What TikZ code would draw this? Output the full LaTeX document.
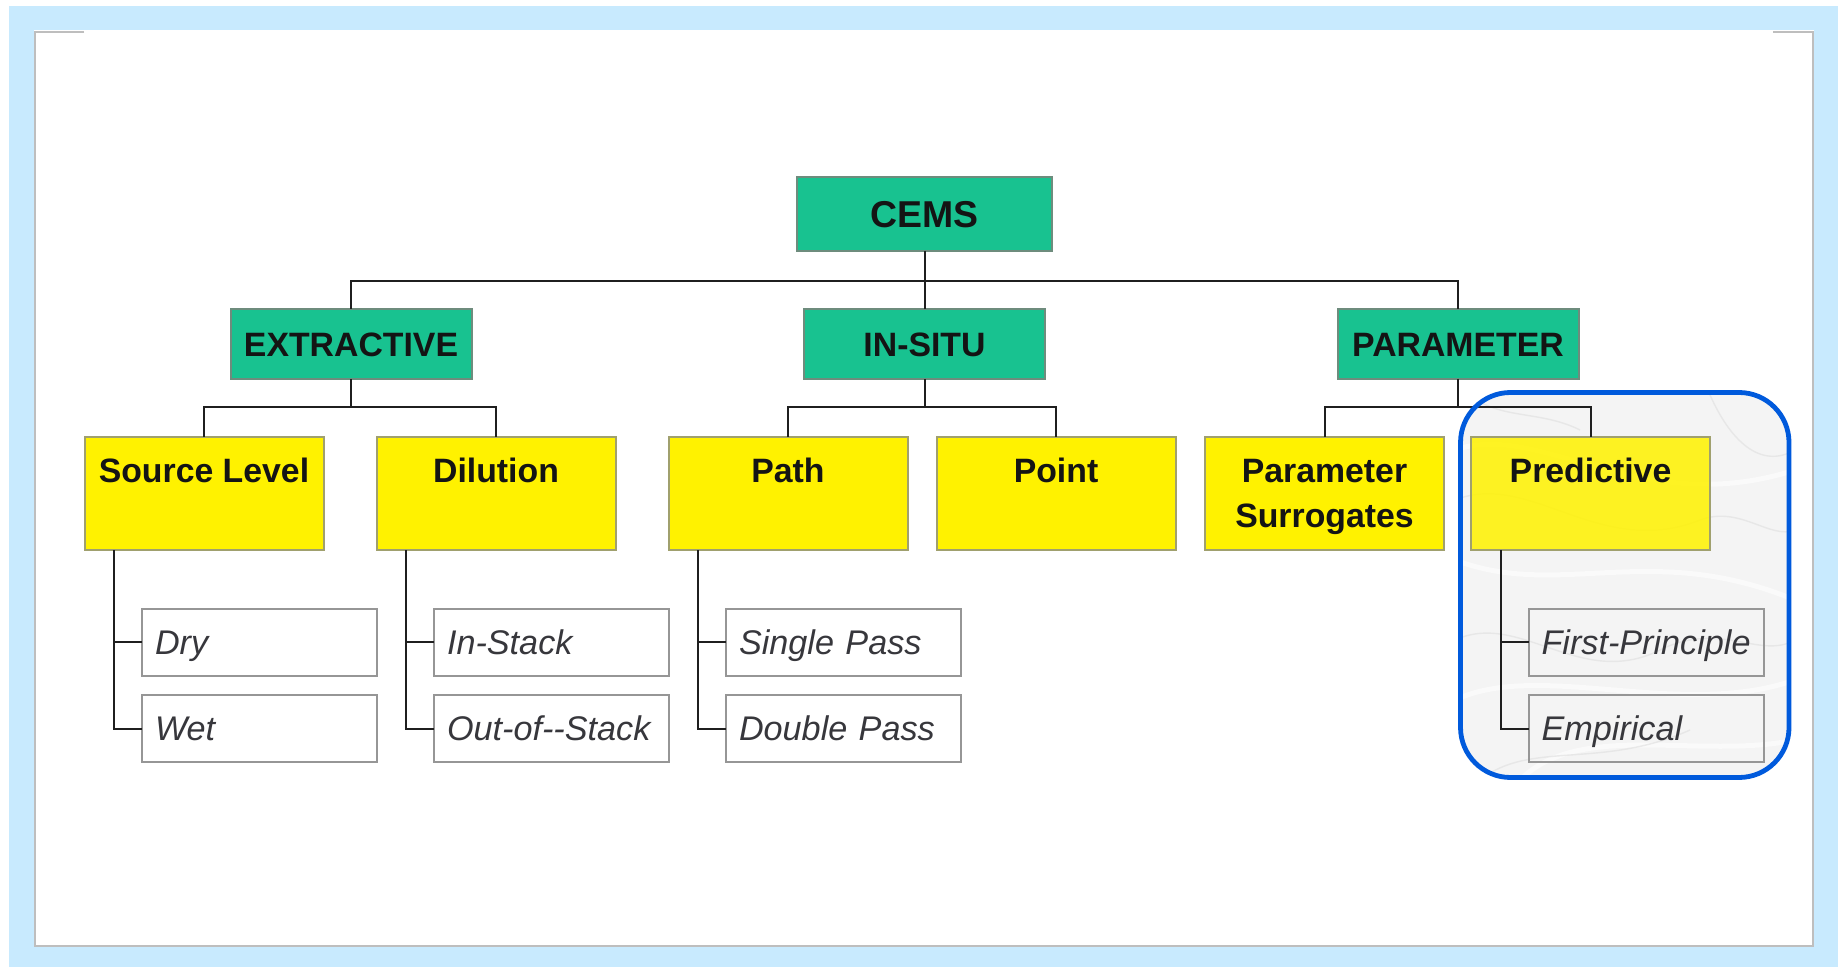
\documentclass[tikz,border=0pt]{standalone}
\usepackage{fontspec}
\setmainfont{Liberation Sans}
\definecolor{bgblue}{RGB}{200,234,254}
\definecolor{panelgray}{RGB}{190,190,190}
\definecolor{tealfill}{RGB}{24,194,144}
\definecolor{tealline}{RGB}{110,140,125}
\definecolor{yline}{RGB}{160,160,110}
\definecolor{leafline}{RGB}{150,150,150}
\definecolor{leaftext}{RGB}{55,55,60}
\definecolor{ringblue}{RGB}{0,90,220}
\definecolor{marble}{RGB}{244,244,244}
\definecolor{veingray}{RGB}{226,226,226}
\tikzset{
  box/.style={draw, line width=1pt, inner sep=0pt, outer sep=0pt},
  toplevel/.style={box, fill=tealfill, draw=tealline, minimum width=120.5pt, minimum height=35pt,
    font=\bfseries\fontsize{16.9}{20}\selectfont, text=black!92, text height=12.1pt, text depth=0pt},
  rootbox/.style={toplevel, minimum width=127.5pt, minimum height=37pt,
    font=\bfseries\fontsize{18.7}{22}\selectfont, text height=13.4pt},
  ybox/.style={box, fill=yellow, draw=yline, minimum width=119.5pt, minimum height=56.5pt},
  ylab/.style={font=\bfseries\fontsize{16.9}{22.5}\selectfont, text=black!92, anchor=base, inner sep=0pt},
  leaf/.style={box, draw=leafline, fill=white, text width=104.5pt, align=left, inner xsep=6.5pt,
    minimum height=33.5pt, font=\itshape\fontsize{17.1}{20}\selectfont, text=leaftext,
    text height=12.2pt, text depth=0pt},
  clearleaf/.style={leaf, fill=none},
  link/.style={line width=1pt, draw=black!88},
  vein/.style={white, line width=2.5pt, opacity=0.55},
  darkvein/.style={veingray, line width=0.7pt, opacity=0.7},
}
\begin{document}
\begin{tikzpicture}[x=0.5pt,y=-0.5pt]
  \useasboundingbox (0,0) rectangle (1845,967);
  % page frame
  \fill[white] (0,0) rectangle (1845,967);
  \fill[bgblue] (9,6) rectangle (1838,967);
  \fill[white] (34,30) rectangle (1814,946);
  \draw[panelgray, line width=1.4pt] (84,32) -- (35,32) -- (35,946) -- (1813,946) -- (1813,32) -- (1773,32);

  % marbled highlight area
  \begin{scope}
    \clip[rounded corners=25pt] (1460.5,392.5) rectangle (1789,777.5);
    \fill[marble] (1440,380) rectangle (1800,790);
    \draw[vein] (1455,450) .. controls (1540,420) and (1640,520) .. (1795,470);
    \draw[vein] (1455,560) .. controls (1560,600) and (1650,540) .. (1795,600);
    \draw[vein] (1455,700) .. controls (1540,660) and (1680,720) .. (1795,680);
    \draw[vein] (1520,780) .. controls (1580,720) and (1700,760) .. (1795,740);
    \draw[darkvein] (1455,500) .. controls (1530,470) and (1600,560) .. (1700,520) .. controls (1740,505) and (1770,540) .. (1795,530);
    \draw[darkvein] (1455,640) .. controls (1520,610) and (1580,690) .. (1660,650) .. controls (1720,620) and (1760,660) .. (1795,640);
    \draw[darkvein] (1480,780) .. controls (1530,740) and (1600,770) .. (1690,730);
    \draw[darkvein] (1710,395) .. controls (1730,440) and (1760,470) .. (1795,450);
    \draw[darkvein] (1470,395) .. controls (1500,420) and (1540,410) .. (1580,430);
  \end{scope}

  % root and first level
  \node[rootbox] (cems) at (924.5,214) {CEMS};
  \node[toplevel] (ext) at (351,344) {EXTRACTIVE};
  \node[toplevel] (ins) at (924.5,344) {IN-SITU};
  \node[toplevel] (par) at (1458,344) {PARAMETER};

  % second level
  \node[ybox] (src) at (204,493.5) {};
  \node[ybox] (dil) at (496,493.5) {};
  \node[ybox] (pth) at (788,493.5) {};
  \node[ybox] (pnt) at (1056,493.5) {};
  \node[ybox] (psur) at (1324.5,493.5) {};
  \node[ybox, fill opacity=0.86] (pred) at (1590.5,493.5) {};
  \node[ylab] (srct) at (204,482.5) {Source Level};
  \node[ylab] (dilt) at (496,482.5) {Dilution};
  \node[ylab] (ptht) at (788,482.5) {Path};
  \node[ylab] (pntt) at (1056,482.5) {Point};
  \node[ylab] (psurt) at (1324.5,482.5) {\setlength{\tabcolsep}{0pt}\begin{tabular}[t]{c}Parameter\\Surrogates\end{tabular}};
  \node[ylab] (predt) at (1590.5,482.5) {Predictive};

  % third level
  \node[leaf] (dry) at (259.5,642) {Dry};
  \node[leaf] (wet) at (259.5,728.5) {Wet};
  \node[leaf] (instk) at (551.5,642) {In-Stack};
  \node[leaf] (outstk) at (551.5,728.5) {\mbox{Out-of-{}-Stack}};
  \node[leaf] (single) at (843.5,642) {Single Pass};
  \node[leaf] (double) at (843.5,728.5) {Double Pass};
  \node[clearleaf] (first) at (1646,642) {\mbox{First-Principle}};
  \node[clearleaf] (emp) at (1646,728.5) {Empirical};

  % connectors
  \coordinate (bus0) at (924.5,281);
  \draw[link] (cems.south) -- (bus0);
  \draw[link] (ext.north) |- (bus0) -| (par.north);
  \draw[link] (bus0) -- (ins.north);

  \coordinate (busA) at (351,407.5);
  \draw[link] (ext.south) -- (busA);
  \draw[link] (src.north) |- (busA) -| (dil.north);
  \coordinate (busB) at (924.5,407.5);
  \draw[link] (ins.south) -- (busB);
  \draw[link] (pth.north) |- (busB) -| (pnt.north);
  \coordinate (busC) at (1458,407.5);
  \draw[link] (par.south) -- (busC);
  \draw[link] (psur.north) |- (busC) -| (pred.north);

  \draw[link] ([xshift=14.75pt]src.south west) |- (dry.west);
  \draw[link] ([xshift=14.75pt]src.south west) |- (wet.west);
  \draw[link] ([xshift=14.75pt]dil.south west) |- (instk.west);
  \draw[link] ([xshift=14.75pt]dil.south west) |- (outstk.west);
  \draw[link] ([xshift=14.75pt]pth.south west) |- (single.west);
  \draw[link] ([xshift=14.75pt]pth.south west) |- (double.west);
  \draw[link] ([xshift=14.75pt]pred.south west) |- (first.west);
  \draw[link] ([xshift=14.75pt]pred.south west) |- (emp.west);

  % highlight ring
  \draw[ringblue, line width=2.4pt, rounded corners=25pt] (1460.5,392.5) rectangle (1789,777.5);
\end{tikzpicture}
\end{document}
